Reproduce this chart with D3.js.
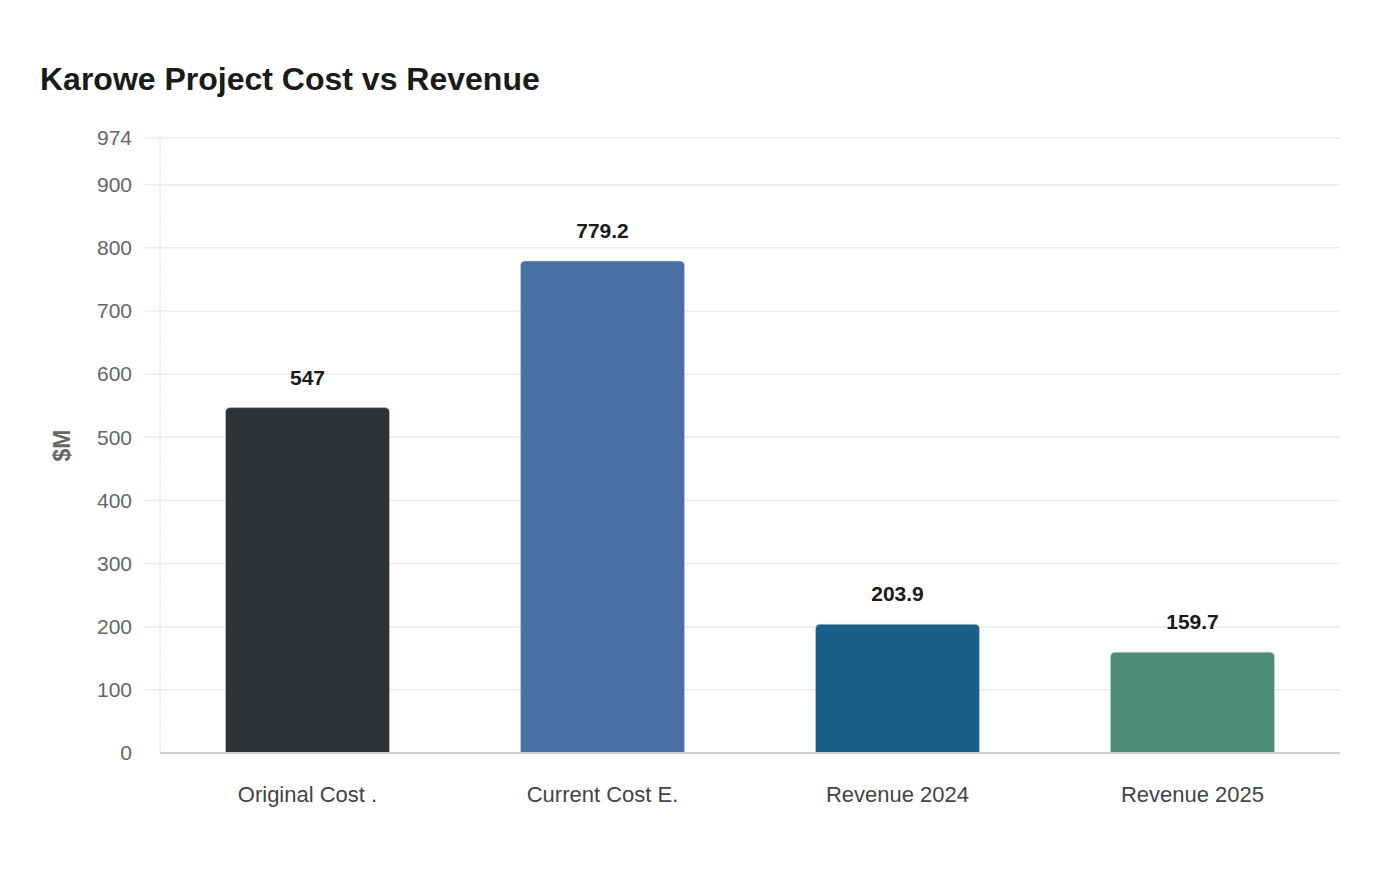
<!DOCTYPE html>
<html>
<head>
<meta charset="utf-8">
<script src="https://cdn.jsdelivr.net/npm/d3@7"></script>
<style>
  body { margin: 0; background: #fff; font-family: "Liberation Sans", Arial, sans-serif; }
</style>
</head>
<body>
<div id="chart"></div>
<script>
var categories = ["Original Cost .", "Current Cost E.", "Revenue 2024", "Revenue 2025"];
var values = [547, 779.2, 203.9, 159.7];
var valueLabels = ["547", "779.2", "203.9", "159.7"];
var colors = ["#2e3436", "#4a6fa5", "#1a5f87", "#4e8c7a"];
var yTicks = [0, 100, 200, 300, 400, 500, 600, 700, 800, 900, 974];
var yMax = 974;

var margin = { top: 138, right: 60, bottom: 127, left: 160 },
    width = 1400 - margin.left - margin.right,
    height = 880 - margin.top - margin.bottom;

var svg = d3.select("#chart").append("svg")
    .attr("width", 1400)
    .attr("height", 880);

svg.append("text")
    .attr("x", 40)
    .attr("y", 90)
    .attr("font-size", 32)
    .attr("font-weight", "bold")
    .attr("fill", "#1a1a1a")
    .text("Karowe Project Cost vs Revenue");

var g = svg.append("g")
    .attr("transform", "translate(" + margin.left + "," + margin.top + ")");

var x = d3.scaleBand()
    .domain(categories)
    .range([0, width])
    .paddingInner(0.444)
    .paddingOuter(0.222);

var y = d3.scaleLinear()
    .domain([0, yMax])
    .range([height, 0]);

// gridlines
g.selectAll(".grid")
    .data(yTicks.filter(function (d) { return d > 0; }))
    .enter().append("line")
    .attr("x1", -15)
    .attr("x2", width)
    .attr("y1", function (d) { return y(d); })
    .attr("y2", function (d) { return y(d); })
    .attr("stroke", "#ebebeb")
    .attr("stroke-width", 1.5);

// left axis line
g.append("line")
    .attr("x1", 0).attr("x2", 0)
    .attr("y1", 0).attr("y2", height)
    .attr("stroke", "#d8d8d8")
    .attr("stroke-width", 1)
    .attr("stroke-dasharray", "2,1");

// y axis labels
var yaxis = g.append("g")
    .call(d3.axisLeft(y).tickValues(yTicks).tickSize(0).tickPadding(28));
yaxis.select(".domain").remove();
yaxis.selectAll("text")
    .attr("font-size", 21)
    .attr("font-family", "Liberation Sans, Arial, sans-serif")
    .attr("fill", "#666");

// bars with rounded top
function barPath(d, i) {
    var x0 = x(categories[i]), w = x.bandwidth();
    var y0 = y(d), y1 = y(0), r = 5;
    return "M" + x0 + "," + y1 +
        "V" + (y0 + r) +
        "Q" + x0 + "," + y0 + " " + (x0 + r) + "," + y0 +
        "H" + (x0 + w - r) +
        "Q" + (x0 + w) + "," + y0 + " " + (x0 + w) + "," + (y0 + r) +
        "V" + y1 + "Z";
}

g.selectAll(".bar")
    .data(values)
    .enter().append("path")
    .attr("class", "bar")
    .attr("d", barPath)
    .attr("fill", function (d, i) { return colors[i]; })
    .attr("stroke", "rgba(200,210,225,0.6)")
    .attr("stroke-width", 1);

// bottom axis line
g.append("line")
    .attr("x1", 0).attr("x2", width)
    .attr("y1", height).attr("y2", height)
    .attr("stroke", "#cfcfcf")
    .attr("stroke-width", 2);

// value labels
g.selectAll(".val")
    .data(values)
    .enter().append("text")
    .attr("class", "val")
    .attr("x", function (d, i) { return x(categories[i]) + x.bandwidth() / 2; })
    .attr("y", function (d) { return y(d) - 23; })
    .attr("text-anchor", "middle")
    .attr("font-size", 21)
    .attr("font-weight", "bold")
    .attr("fill", "#1a1a1a")
    .text(function (d, i) { return valueLabels[i]; });

// x axis labels
var xaxis = g.append("g")
    .attr("transform", "translate(0," + height + ")")
    .call(d3.axisBottom(x).tickSize(0).tickPadding(33));
xaxis.select(".domain").remove();
xaxis.selectAll("text")
    .attr("font-size", 22)
    .attr("font-family", "Liberation Sans, Arial, sans-serif")
    .attr("fill", "#444");

// y axis title
svg.append("text")
    .attr("transform", "translate(70," + (margin.top + height / 2) + ") rotate(-90)")
    .attr("text-anchor", "middle")
    .attr("font-size", 23)
    .attr("font-weight", "bold")
    .attr("fill", "#666")
    .text("$M");
</script>
</body>
</html>
